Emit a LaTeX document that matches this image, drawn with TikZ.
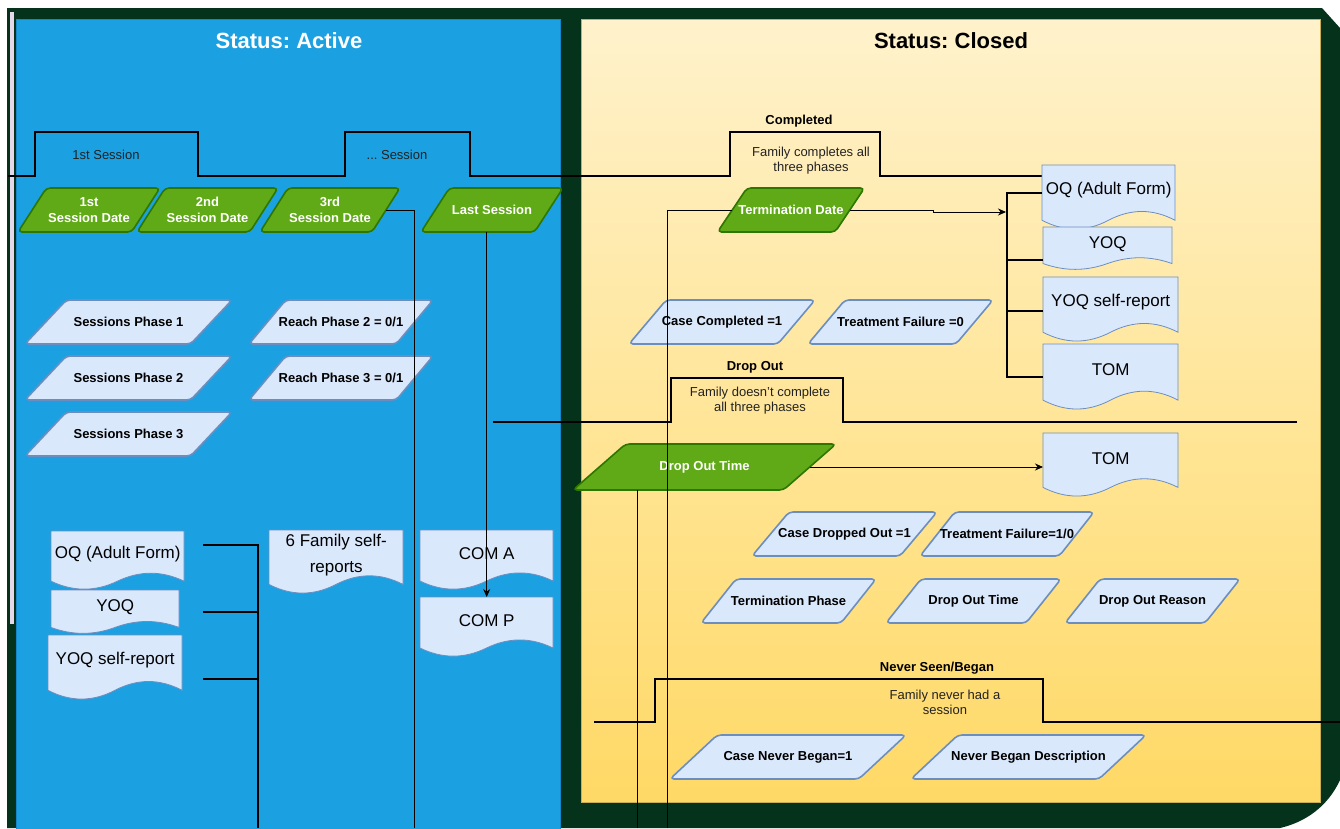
\documentclass[tikz,border=0pt]{standalone}
\usepackage{fontspec}
\setmainfont{Liberation Sans}
\usetikzlibrary{calc,arrows.meta}
\frenchspacing
\definecolor{dkg}{RGB}{4,50,27}
\definecolor{blu}{HTML}{1BA1E2}
\definecolor{bluD}{HTML}{1388C8}
\definecolor{ylwT}{HTML}{FFF2CC}
\definecolor{ylwB}{HTML}{FFD966}
\definecolor{ylwD}{HTML}{C9AE5A}
\definecolor{grn}{HTML}{60A917}
\definecolor{grnD}{HTML}{2D7600}
\definecolor{lb}{HTML}{DAE8FC}
\definecolor{lbD}{HTML}{6C8EBF}
\definecolor{lav}{HTML}{E4D8EA}
\definecolor{txg}{HTML}{222222}

% parallelogram: #1 kind (g/b), #2 name, #3 cx, #4 cy, #5 W, #6 H, #7 text
\newcommand\para[7]{%
  \draw[#1shape] ({#3-#5/2},{#4+#6/2}) -- ({#3-#5/2+0.2*#5},{#4-#6/2}) -- ({#3+#5/2},{#4-#6/2}) -- ({#3+#5/2-0.2*#5},{#4+#6/2}) -- cycle;
  \node[#1text, minimum width={0.8*#5}, minimum height=#6] (#2) at (#3,#4) {#7};
}
% document: #1 name, #2 x, #3 y, #4 w, #5 h, #6 text, #7 extra options
\newcommand\docu[7]{%
  \pgfmathsetmacro\docdy{0.3*#5}
  \draw[docshape] (#2,#3) -- ({#2+#4},#3) -- ({#2+#4},{#3+#5-\docdy/2})
     .. controls ({#2+5*#4/6},{#3+#5-1.1*\docdy}) and ({#2+2*#4/3},{#3+#5-1.1*\docdy}) .. ({#2+#4/2},{#3+#5-\docdy/2})
     .. controls ({#2+#4/3},{#3+#5+0.1*\docdy}) and ({#2+#4/6},{#3+#5+0.1*\docdy}) .. (#2,{#3+#5-\docdy/2}) -- cycle;
  \node[doctext, minimum width=#4, minimum height={0.78*#5}, anchor=north west, #7] (#1) at (#2,#3) {#6};
}

\begin{document}
\begin{tikzpicture}[x=1pt,y=-1pt,
  gshape/.style={fill=grn, draw=grnD, line width=1.6pt, rounded corners=4pt, line join=round},
  gtext/.style={text=white, font=\fontsize{13}{16}\selectfont\bfseries, align=center, inner sep=0pt},
  bshape/.style={fill=lb, draw=lbD, line width=1.6pt, rounded corners=4pt, line join=round},
  btext/.style={text=black, font=\fontsize{13}{16}\selectfont\bfseries, align=center, inner sep=0pt},
  docshape/.style={fill=lb, draw=lbD, line width=0.8pt},
  doctext/.style={text=black, font=\fontsize{17}{20}\selectfont, align=center, inner sep=0pt},
  bk/.style={line width=2pt, draw=black},
  thinone/.style={line width=0.9pt, draw=black},
  arr/.style={thinone, -{Stealth[length=8pt,width=7pt]}},
  lbl/.style={text=txg, font=\fontsize{13}{15}\selectfont, align=center, inner sep=0pt},
  hdr/.style={text=black, font=\fontsize{13}{15}\selectfont\bfseries, inner sep=0pt},
  ttl/.style={font=\fontsize{22}{26}\selectfont\bfseries, inner sep=0pt}]
\useasboundingbox (0,0) rectangle (1340,828);
\fill[white] (0,0) rectangle (1340,828);
\fill[dkg] (7,8) -- (1322,8) -- (1340,28) -- (1340,780) .. controls (1328,806) and (1306,822) .. (1280,828) -- (7,828) -- cycle;
\fill[lav] (10,12) rectangle (14,624);
\draw[fill=blu, draw=bluD, line width=1pt] (16,19) rectangle (560,832);
\shade[top color=ylwT, bottom color=ylwB] (581,19) rectangle (1320,802);
\draw[ylwD, line width=1pt] (581,19) rectangle (1320,802);

\node[ttl, text=white] (ta) at (289,41) {Status: Active};
\node[ttl, text=black] (tc) at (951,41) {Status: Closed};

% timelines
\draw[bk] (8,176) -- (35,176) -- (35,132) -- (198,132) -- (198,176) -- (345,176) -- (345,132) -- (470,132) -- (470,176)
  -- (730,176) -- (730,132) -- (880,132) -- (880,176) -- (1042,176);
\draw[bk] (493,422) -- (671,422) -- (671,378) -- (843,378) -- (843,422) -- (1297,422);
\draw[bk] (594,722) -- (655,722) -- (655,679) -- (1043,679) -- (1043,722) -- (1345,722);

\node[lbl] (s1) at (106,155) {1st Session};
\node[lbl] (sn) at (397,155) {... Session};
\node[hdr] (hc) at (799,121) {Completed};
\node[lbl] (dc) at (811,161) {Family completes all\\three phases};
\node[hdr] (hd) at (755,367) {Drop Out};
\node[lbl] (dd) at (760,401) {Family doesn't complete\\all three phases};
\node[hdr] (hn) at (937,668) {Never Seen/Began};
\node[lbl] (dn) at (945,702) {Family never had a\\session};

% green parallelograms
\para{g}{d1}{89}{210}{142}{44}{1st\\Session Date}
\para{g}{d2}{207.5}{210}{141}{44}{2nd\\Session Date}
\para{g}{d3}{330}{210}{140}{44}{3rd\\Session Date}
\para{g}{ls}{492}{210}{142}{44}{Last Session}
\para{g}{td}{791}{210}{147}{44}{Termination Date}
\para{g}{dot}{704.5}{467}{263}{46}{Drop Out Time}

% light blue parallelograms
\para{b}{sp1}{128.5}{322}{207}{44}{Sessions Phase 1}
\para{b}{sp2}{128.5}{378}{207}{44}{Sessions Phase 2}
\para{b}{sp3}{128.5}{434}{207}{44}{Sessions Phase 3}
\para{b}{rp2}{341}{322}{184}{44}{Reach Phase 2 = 0/1}
\para{b}{rp3}{341}{378}{184}{44}{Reach Phase 3 = 0/1}
\para{b}{cc}{722}{322}{186}{44}{Case Completed =1}
\para{b}{tf0}{900.5}{322}{185}{44}{Treatment Failure =0}
\para{b}{cdo}{844.5}{534}{185}{44}{Case Dropped Out =1}
\para{b}{tf1}{1007}{534}{174}{44}{Treatment Failure=1/0}
\para{b}{tp}{788.5}{601}{175}{44}{Termination Phase}
\para{b}{dotb}{973.5}{601}{175}{44}{Drop Out Time}
\para{b}{dor}{1152.5}{601}{175}{44}{Drop Out Reason}
\para{b}{cnb}{788}{757}{236}{44}{Case Never Began=1}
\para{b}{nbd}{1028.5}{757}{235}{44}{Never Began Description}

% documents
\docu{oql}{51}{531}{133}{59}{OQ (Adult Form)}{}
\docu{yoql}{51}{590}{128}{44}{YOQ}{}
\docu{ysrl}{48}{635}{134}{65}{YOQ self-report}{}
\docu{fam}{269}{530}{134}{64}{6 Family self-\\reports}{font=\fontsize{17}{26}\selectfont}
\docu{coma}{420}{530}{133}{60}{COM A}{}
\docu{comp}{420}{597}{133}{60}{COM P}{}
\docu{oqr}{1042}{165}{133}{65}{OQ (Adult Form)}{}
\docu{yoqr}{1043}{227}{129}{43}{YOQ}{}
\docu{ysrr}{1043}{277}{135}{65}{YOQ self-report}{}
\docu{tomr}{1043}{344}{135}{66}{TOM}{}
\docu{tom2}{1043}{433}{135}{64}{TOM}{}

% connector end points
\coordinate (lbx) at (258,828);
\coordinate (rbx) at (1007,377);
\coordinate (rja) at (1006,212);
\coordinate (d3end) at (414,828);
\coordinate (tdend) at (667,828);
\coordinate (dotend) at (637,828);

% left bracket
\draw[bk] ($(oql.north east)+(19,14)$) -- ($(lbx)+(0,-283)$) -- (lbx);
\draw[bk] ($(yoql.north east)+(24,22)$) -- ($(lbx)+(0,-216)$);
\draw[bk] ($(ysrl.north east)+(21,44)$) -- ($(lbx)+(0,-149)$);

% right bracket
\draw[bk] ($(oqr.north west)+(0,28)$) -| (rbx) -- ($(tomr.north west)+(0,33)$);
\draw[bk] ($(yoqr.north west)+(0,33)$) -- ++(-36,0);
\draw[bk] ($(ysrr.north west)+(0,34)$) -- ++(-36,0);

% thin connectors
\draw[thinone] (d3.east) -| (d3end);
\draw[arr] (ls.south -| comp.north) -- (comp.north);
\draw[arr] (td.east) -- ++(83,0) -- ++(0,2) -- (rja);
\draw[thinone] (td.west) -| (tdend);
\draw[arr] (dot.east) -- (dot.east -| tom2.west);
\draw[thinone] (dotend |- dot.south) -- (dotend);
\end{tikzpicture}
\end{document}
